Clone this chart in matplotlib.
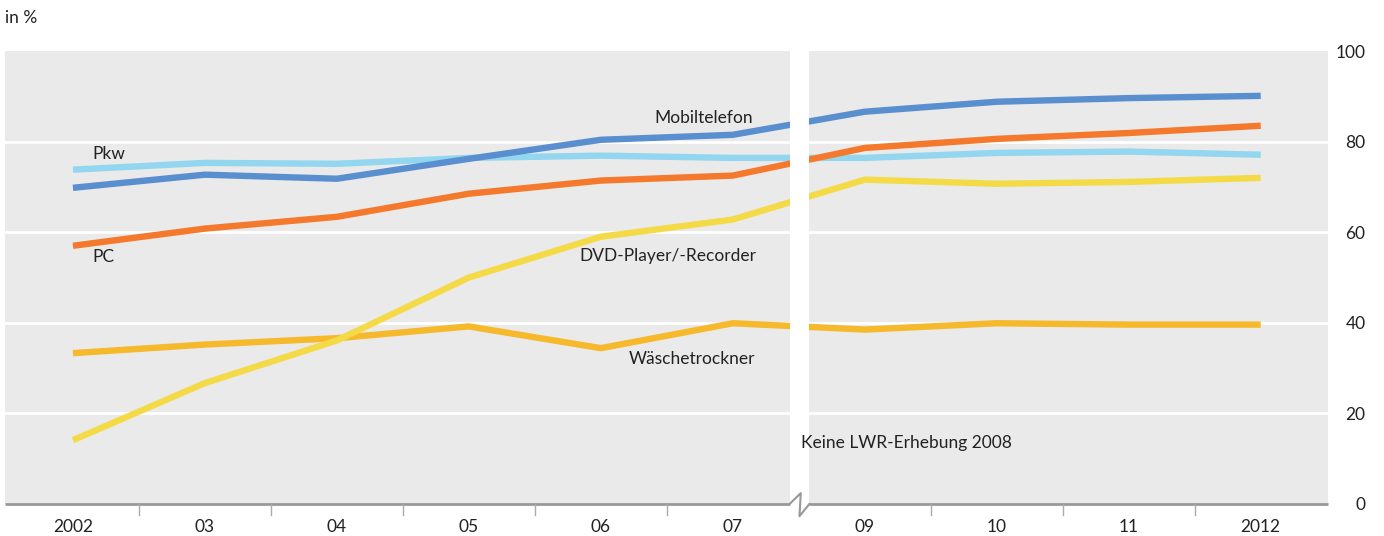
import matplotlib
matplotlib.use("Agg")
import matplotlib.pyplot as plt

plt.rcParams['font.family'] = ['Lato', 'DejaVu Sans']

years = ["2002", "03", "04", "05", "06", "07", "09", "10", "11", "2012"]
mobiltelefon = [69.8, 72.7, 71.8, 76.2, 80.4, 81.5, 86.6, 88.8, 89.6, 90.1]
pkw = [73.8, 75.3, 75.1, 76.4, 76.9, 76.4, 76.4, 77.5, 77.8, 77.1]
pc = [57.0, 60.8, 63.4, 68.5, 71.4, 72.5, 78.6, 80.6, 81.9, 83.5]
dvd = [14.1, 26.7, 36.1, 50.0, 59.0, 62.8, 71.6, 70.7, 71.1, 72.0]
trockner = [33.3, 35.2, 36.6, 39.2, 34.4, 39.9, 38.5, 39.9, 39.6, 39.6]
yticks = [0, 20, 40, 60, 80, 100]

c_mobil = "#5A8FCF"
c_pkw = "#92D6F0"
c_pc = "#F4792C"
c_dvd = "#F5DA48"
c_trock = "#F6B92B"

fig = plt.figure(figsize=(13.84, 5.36), dpi=100)
ax = fig.add_axes([5/1384, 1-504/536, (1328-5)/1384, (504-51)/536])
ax.set_facecolor("#EAEAEA")

x = list(range(len(years)))
lw = 4.6
ax.plot(x, trockner, color=c_trock, lw=lw, solid_capstyle='butt', zorder=3)
ax.plot(x, pkw, color=c_pkw, lw=lw, solid_capstyle='butt', zorder=3)
ax.plot(x, mobiltelefon, color=c_mobil, lw=lw, solid_capstyle='butt', zorder=3)
ax.plot(x, pc, color=c_pc, lw=lw, solid_capstyle='butt', zorder=3)
ax.plot(x, dvd, color=c_dvd, lw=lw, solid_capstyle='butt', zorder=3)

ax.set_xlim(-0.515, 9.51)
ax.set_ylim(0, 100)

# grid
for v in [20, 40, 60, 80]:
    ax.axhline(v, color="white", lw=2, zorder=2)

# break gap
g0, g1 = 5.43, 5.58
ax.axvspan(g0, g1, color="white", zorder=4, lw=0)

for s in ax.spines.values():
    s.set_visible(False)

# bottom axis line with break mark
axc = "#999999"
ax.plot([-0.515, g0], [0, 0], color=axc, lw=2, clip_on=False, zorder=5, solid_capstyle='butt')
ax.plot([g1, 9.51], [0, 0], color=axc, lw=2, clip_on=False, zorder=5, solid_capstyle='butt')
ax.plot([g0, 5.515, 5.505, g1], [0, 2.4, -2.7, 0], color=axc, lw=1.5, clip_on=False, zorder=5)

# x ticks (boundaries) and labels
ax.set_xticks(x)
ax.set_xticklabels(years, fontsize=12.5, color="#222222")
ax.tick_params(axis='x', length=0, pad=11)
for b in [0.5, 1.5, 2.5, 3.5, 4.5, 6.5, 7.5, 8.5]:
    ax.plot([b, b], [0, -2.4], color="#AAAAAA", lw=1, clip_on=False, zorder=5)

# y ticks on right
ax.yaxis.tick_right()
ax.set_yticks(yticks)
ax.set_yticklabels([str(v) for v in yticks], fontsize=12.5, color="#222222")
ax.tick_params(axis='y', length=0, pad=27)
for t in ax.get_yticklabels():
    t.set_horizontalalignment('right')

# series labels
fs = 12.5
tc = "#222222"
ax.text(4.78, 85.2, "Mobiltelefon", fontsize=fs, color=tc, ha='center', va='center', zorder=6)
ax.text(0.145, 77.3, "Pkw", fontsize=fs, color=tc, ha='left', va='center', zorder=6)
ax.text(0.145, 54.5, "PC", fontsize=fs, color=tc, ha='left', va='center', zorder=6)
ax.text(5.18, 54.7, "DVD-Player/-Recorder", fontsize=fs, color=tc, ha='right', va='center', zorder=6)
ax.text(5.17, 32.0, "Wäschetrockner", fontsize=fs, color=tc, ha='right', va='center', zorder=6)
ax.text(5.515, 13.5, "Keine LWR-Erhebung 2008", fontsize=fs, color=tc, ha='left', va='center', zorder=6)

fig.text(5/1384, 1-18/536, "in %", fontsize=12.5, color=tc, ha='left', va='center')

fig.savefig("out.png", dpi=100)
